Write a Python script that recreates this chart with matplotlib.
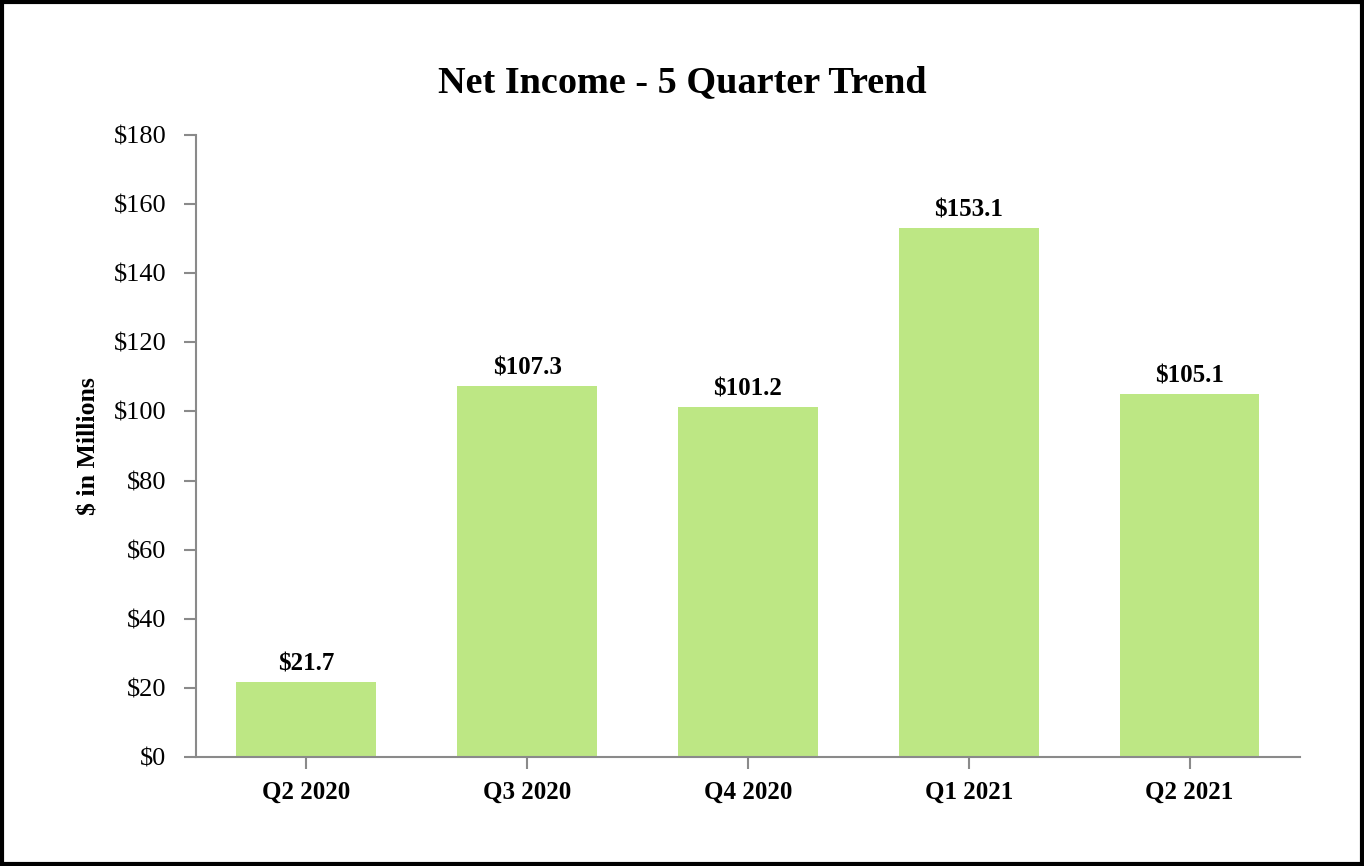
import matplotlib.pyplot as plt
from matplotlib.patches import Rectangle

# data
quarters = ['Q2 2020', 'Q3 2020', 'Q4 2020', 'Q1 2021', 'Q2 2021']
net_income = [21.7, 107.3, 101.2, 153.1, 105.1]
yticks = [0, 20, 40, 60, 80, 100, 120, 140, 160, 180]

plt.rcParams['font.family'] = 'Liberation Serif'

fig = plt.figure(figsize=(13.64, 8.66), dpi=100)
ax = fig.add_axes([0.1437, 0.1259, 0.953 - 0.1437, 0.8441 - 0.1259])

x = list(range(len(quarters)))
ax.bar(x, net_income, width=0.634, color='#bde784')
for xi, v in zip(x, net_income):
    ax.text(xi, v + 1.9, '${:.1f}'.format(v), ha='center', va='bottom',
            fontsize=18, fontweight='bold')

ax.set_xlim(-0.5, len(quarters) - 0.5)
ax.set_ylim(0, 180)
ax.set_yticks(yticks)
ax.set_yticklabels(['${}'.format(t) for t in yticks], fontsize=19)
ax.set_xticks(x)
ax.set_xticklabels(quarters, fontsize=18, fontweight='bold')
ax.set_ylabel('$ in Millions', fontsize=18.5, fontweight='bold', labelpad=9)

for s in ['top', 'right']:
    ax.spines[s].set_visible(False)
for s in ['left', 'bottom']:
    ax.spines[s].set_color('#8a8a8a')
    ax.spines[s].set_linewidth(1.5)
ax.tick_params(axis='both', direction='out', length=8.5, width=1.5, color='#8a8a8a')
ax.tick_params(axis='y', pad=13)
ax.tick_params(axis='x', pad=9)

fig.text(0.5, 0.905, 'Net Income - 5 Quarter Trend', ha='center', va='center',
         fontsize=27.5, fontweight='bold')

# border
fig.patches.append(Rectangle((0.0015, 0.0023), 0.997, 0.9954, transform=fig.transFigure,
                             fill=False, edgecolor='black', linewidth=3))

fig.savefig('out.png', dpi=100)
